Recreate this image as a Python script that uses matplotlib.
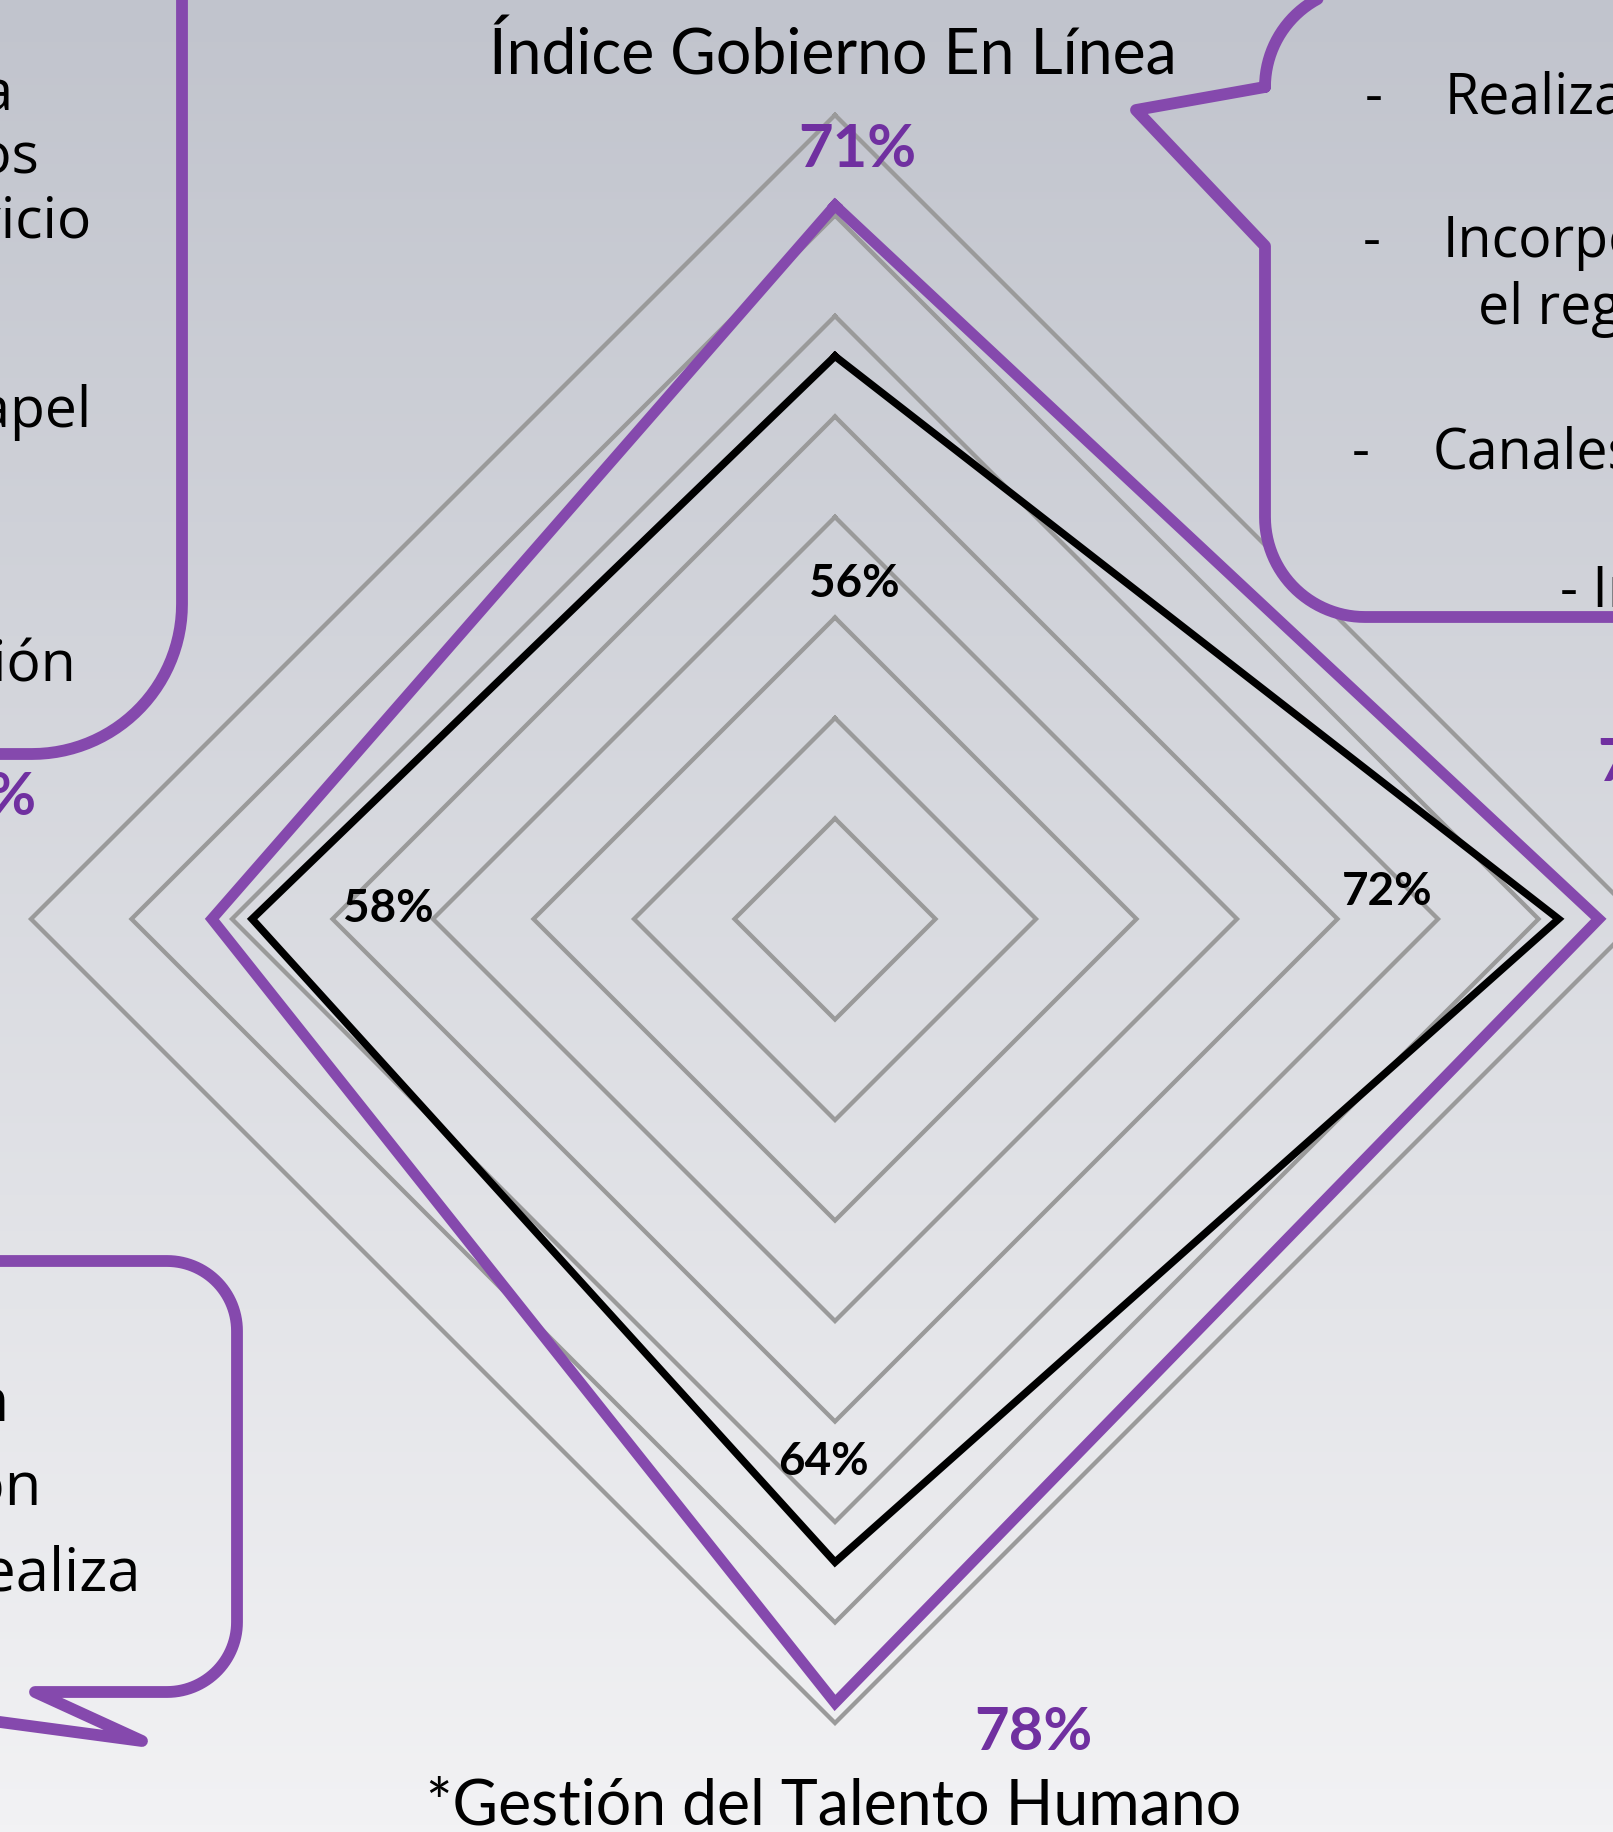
import numpy as np
import matplotlib
matplotlib.use("Agg")
import matplotlib.pyplot as plt
from matplotlib.path import Path
from matplotlib.patches import PathPatch

# datos del radar (4 ejes: arriba, derecha, abajo, izquierda)
ejes = ["Índice Gobierno En Línea", "", "*Gestión del Talento Humano", ""]
serie_morada = [0.71, 0.76, 0.78, 0.62]
serie_negra = [0.56, 0.72, 0.64, 0.58]
niveles = [0.1, 0.2, 0.3, 0.4, 0.5, 0.6, 0.7, 0.8]
etq_morada = ["71%", "76%", "78%", "62%"]
etq_negra = ["56%", "72%", "64%", "58%"]

W, H = 1613, 1833
cx, cy, R = 835, 920, 804      # centro y radio (px) del radar
morado = "#8549AD"
morado_txt = "#7030A0"
gris = "#9A9A9A"

fig = plt.figure(figsize=(W / 100, H / 100), dpi=100)

# fondo degradado
bg = fig.add_axes([0, 0, 1, 1], zorder=0)
c1 = np.array([193, 196, 205]) / 255
c2 = np.array([242, 242, 244]) / 255
t = np.linspace(0, 1, 256)[:, None, None]
grad = c1 * (1 - t) + c2 * t
bg.imshow(grad, extent=[0, W, H, 0], aspect="auto")
bg.set_xlim(0, W)
bg.set_ylim(H, 0)
bg.axis("off")

# radar
ax = fig.add_axes([(cx - R) / W, (H - cy - R) / H, 2 * R / W, 2 * R / H],
                  projection="polar", zorder=2)
ax.set_theta_zero_location("N")
ax.set_theta_direction(-1)
ang = np.arange(len(ejes)) * 2 * np.pi / len(ejes)
ang_c = np.append(ang, ang[0])
for n in niveles:
    ax.plot(ang_c, [n] * (len(ejes) + 1), color=gris, lw=3.1, clip_on=False,
            solid_joinstyle="miter")
ax.plot(ang_c, serie_morada + serie_morada[:1], color=morado, lw=7.8, clip_on=False,
        solid_joinstyle="miter")
ax.plot(ang_c, serie_negra + serie_negra[:1], color="black", lw=5.4, clip_on=False,
        solid_joinstyle="miter")
ax.set_ylim(0, 0.8)
ax.grid(False)
ax.set_xticks([])
ax.set_yticks([])
ax.spines["polar"].set_visible(False)
ax.patch.set_alpha(0)

fuente = ["Lato", "DejaVu Sans"]
# etiquetas de datos (desplazamientos en px respecto al vertice)
desp_negra = [(19, -240, "center"), (-171, 15, "center"), (-12, 88, "center"), (136, -2, "center")]
desp_morada = [(22, 39, "center"), (-2, 139, "left"), (198, -46, "center"), (-175, 105, "right")]
for a, v, e, (dx, dy, ha) in zip(ang, serie_negra, etq_negra, desp_negra):
    ax.annotate(e, xy=(a, v), xytext=(dx, dy), textcoords="offset pixels",
                ha=ha, va="baseline", fontsize=33, fontweight="bold",
                color="black", family=fuente, annotation_clip=False)
for a, v, e, (dx, dy, ha) in zip(ang, serie_morada, etq_morada, desp_morada):
    ax.annotate(e, xy=(a, v), xytext=(dx, dy), textcoords="offset pixels",
                ha=ha, va="baseline", fontsize=43, fontweight="bold",
                color=morado_txt, family=fuente, annotation_clip=False)

# capa superior: globos y textos
top = fig.add_axes([0, 0, 1, 1], zorder=3)
top.set_xlim(0, W)
top.set_ylim(H, 0)
top.axis("off")
top.patch.set_alpha(0)

top.text(833, 74, ejes[0], ha="center", va="baseline", fontsize=45, family=fuente)
top.text(834, 1825, ejes[2], ha="center", va="baseline", fontsize=45, family=fuente)


def arco(xc, yc, r, a0, a1, n=30):
    th = np.radians(np.linspace(a0, a1, n))
    return list(zip(xc + r * np.cos(th), yc + r * np.sin(th)))


def globo(puntos):
    p = Path(puntos + [puntos[0]], closed=True)
    fondo = top.imshow(grad, extent=[0, W, H, 0], aspect="auto", zorder=1)
    patch = PathPatch(p, facecolor="none", edgecolor=morado, lw=8.5,
                      joinstyle="round", capstyle="round", zorder=2)
    top.add_patch(patch)
    fondo.set_clip_path(patch)


g1 = [(-30, -30), (182, -30), (182, 605)] + arco(32, 605, 150, 0, 90) + [(-30, 755)]
g2 = ([(1660, 618), (1365, 618)] + arco(1365, 518, 100, 90, 180) +
      [(1265, 247), (1136, 111), (1265, 88)] + arco(1365, 88, 100, 180, 270) +
      [(1660, -12)])
g3 = ([(-30, 1262), (167, 1262)] + arco(167, 1332, 70, 270, 360) +
      [(237, 1623)] + arco(167, 1623, 70, 0, 90) +
      [(35, 1693), (142, 1742), (-30, 1719)])
for g in (g1, g2, g3):
    globo(g)
top.set_xlim(0, W)
top.set_ylim(H, 0)

ftxt = ["Open Sans", "DejaVu Sans"]
textos = [
    (1365, 113, "-", "left", 40), (1445, 113, "Realiza", "left", 40),
    (1363, 257, "-", "left", 40), (1443, 257, "Incorpora", "left", 40),
    (1478, 324, "el registro", "left", 40),
    (1352, 468, "-", "left", 40), (1433, 468, "Canales", "left", 40),
    (1560, 607, "- Interacción", "left", 40),
    (13, 110, "para la", "right", 41), (40, 173, "ciudadanos", "right", 41),
    (91, 238, "del servicio", "right", 41), (91, 427, "cero papel", "right", 41),
    (76, 681, "participación", "right", 41),
    (10, 1421, "en", "right", 43), (42, 1505, "con", "right", 43),
    (140, 1591, "se realiza", "right", 43),
]
for x, y, s, ha, fs in textos:
    top.text(x, y, s, ha=ha, va="baseline", fontsize=fs, family=ftxt, zorder=4)

fig.savefig("out.png", dpi=100)
